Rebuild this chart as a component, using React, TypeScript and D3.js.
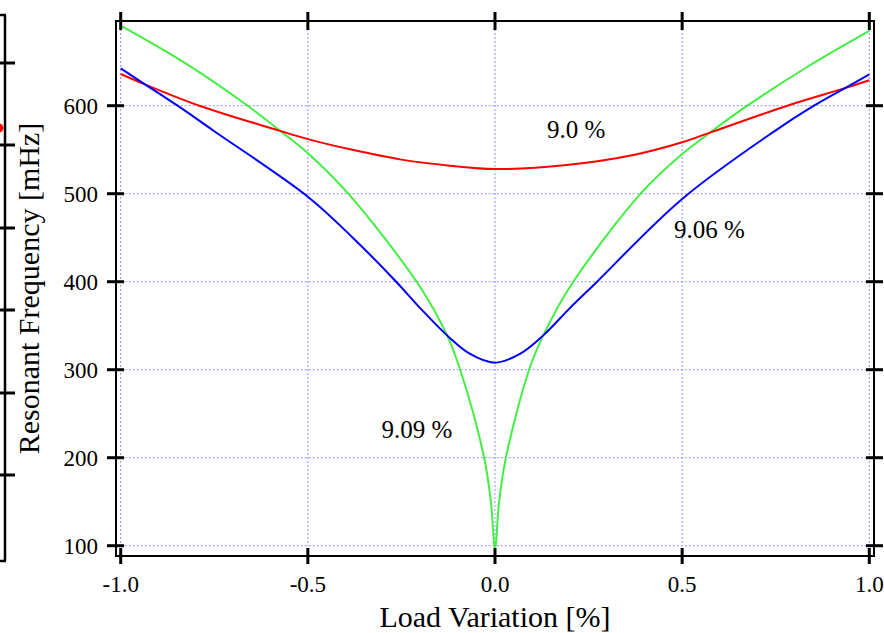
import React from "react";
import * as d3 from "d3";

const xTicks = [-1.0, -0.5, 0.0, 0.5, 1.0];
const xTickLabels = ["-1.0", "-0.5", "0.0", "0.5", "1.0"];
const yTicks = [100, 200, 300, 400, 500, 600];
const yTickLabels = ["100", "200", "300", "400", "500", "600"];

const redX = [-1, -0.934, -0.79, -0.579, -0.5, -0.387, -0.254, -0.12, 0, 0.191, 0.37, 0.5, 0.578, 0.781, 0.935, 1];
const redV = [636, 624, 600, 572, 562, 550.4, 539, 531.8, 528, 532.6, 544, 558.4, 570, 600, 620, 629];

const blueX = [-1, -0.934, -0.848, -0.75, -0.5, -0.38, -0.264, -0.2, -0.128, -0.069, 0, 0.069, 0.129, 0.2, 0.263, 0.5, 0.75, 0.852, 0.935, 1];
const blueV = [642.5, 624, 600, 571, 496.6, 450, 400, 370, 339, 318.6, 308, 318.6, 339, 370, 396, 494, 572, 600, 620, 635.5];

const greenX = [-1, -0.834, -0.661, -0.579, -0.5, -0.392, -0.2, -0.128, -0.093, -0.029, -0.011, 0, 0.011, 0.029, 0.091, 0.129, 0.2, 0.389, 0.5, 0.578, 0.674, 0.834, 1];
const greenV = [691, 650, 600, 573, 546, 500, 394, 339, 300, 200, 150, 97, 150, 200, 300, 339, 394, 500, 545, 570.5, 600, 644, 685];

const labelTexts = ["9.0 %", "9.06 %", "9.09 %"];
const labelX = [0.139, 0.478, -0.303];
const labelV = [563.6, 449.3, 222];

const sideTicksY = [63, 145, 228, 310, 393, 475];

const FONT = '"Liberation Serif", "Times New Roman", serif';

export default function App() {
  const W = 884, H = 633;
  const x = d3.scaleLinear().domain([-1, 1]).range([120.7, 869.3]);
  const y = d3.scaleLinear().domain([100, 600]).range([545.7, 105.7]);

  const frameL = 116, frameR = 874, frameT = 21, frameB = 556;

  const line = d3
    .line<[number, number]>()
    .x((d) => x(d[0]))
    .y((d) => y(d[1]))
    .curve(d3.curveCatmullRom.alpha(0.5));

  const series = [
    { xs: greenX, vs: greenV, color: "#44ee44" },
    { xs: redX, vs: redV, color: "#ff0000" },
    { xs: blueX, vs: blueV, color: "#0000ff" },
  ];

  return (
    <svg
      width={W}
      height={H}
      style={{ position: "absolute", left: 0, top: 0, background: "#fff" }}
    >
      {/* partial neighbouring panel */}
      <g stroke="#000" strokeWidth={2.5} fill="none">
        <line x1={5} y1={15} x2={5} y2={561} />
        <line x1={0} y1={15} x2={6} y2={15} />
        <line x1={0} y1={561} x2={6} y2={561} />
        {sideTicksY.map((t, i) => (
          <line key={i} x1={0} y1={t} x2={15} y2={t} strokeWidth={3} />
        ))}
      </g>
      <circle cx={-1} cy={128} r={4.5} fill="#ff0000" />

      {/* grid */}
      <g stroke="#8c8cff" strokeWidth={1} strokeDasharray="2,2">
        {xTicks.map((t, i) => (
          <line key={"gx" + i} x1={x(t)} x2={x(t)} y1={frameT} y2={y(100)} />
        ))}
        {yTicks.map((t, i) => (
          <line key={"gy" + i} x1={x(-1)} x2={x(1)} y1={y(t)} y2={y(t)} />
        ))}
      </g>

      {/* curves */}
      {series.map((s, i) => (
        <path
          key={i}
          d={line(s.xs.map((v, j) => [v, s.vs[j]] as [number, number])) || ""}
          fill="none"
          stroke={s.color}
          strokeWidth={2}
        />
      ))}

      {/* frame */}
      <rect
        x={frameL}
        y={frameT}
        width={frameR - frameL}
        height={frameB - frameT}
        fill="none"
        stroke="#000"
        strokeWidth={2}
      />

      {/* ticks */}
      <g stroke="#000" strokeWidth={3}>
        {xTicks.map((t, i) => (
          <g key={"tx" + i}>
            <line x1={x(t)} x2={x(t)} y1={12} y2={30} />
            <line x1={x(t)} x2={x(t)} y1={548} y2={564} />
          </g>
        ))}
        {yTicks.map((t, i) => (
          <g key={"ty" + i}>
            <line x1={107} x2={124} y1={y(t)} y2={y(t)} />
            <line x1={866} x2={883} y1={y(t)} y2={y(t)} />
          </g>
        ))}
      </g>

      {/* tick labels */}
      <g fontFamily={FONT} fontSize={23} fill="#000">
        {yTicks.map((t, i) => (
          <text key={"ly" + i} x={98} y={y(t) + 8.5} textAnchor="end">
            {yTickLabels[i]}
          </text>
        ))}
        {xTicks.map((t, i) => (
          <text key={"lx" + i} x={x(t)} y={592} textAnchor="middle">
            {xTickLabels[i]}
          </text>
        ))}
      </g>

      {/* axis titles */}
      <text
        x={(frameL + frameR) / 2}
        y={627}
        textAnchor="middle"
        fontFamily={FONT}
        fontSize={30}
      >
        Load Variation [%]
      </text>
      <text
        transform={`translate(38.5, ${(frameT + frameB) / 2}) rotate(-90)`}
        textAnchor="middle"
        fontFamily={FONT}
        fontSize={30}
      >
        Resonant Frequency [mHz]
      </text>

      {/* annotations */}
      <g fontFamily={FONT} fontSize={25}>
        {labelTexts.map((t, i) => (
          <text key={"an" + i} x={x(labelX[i])} y={y(labelV[i])}>
            {t}
          </text>
        ))}
      </g>
    </svg>
  );
}
